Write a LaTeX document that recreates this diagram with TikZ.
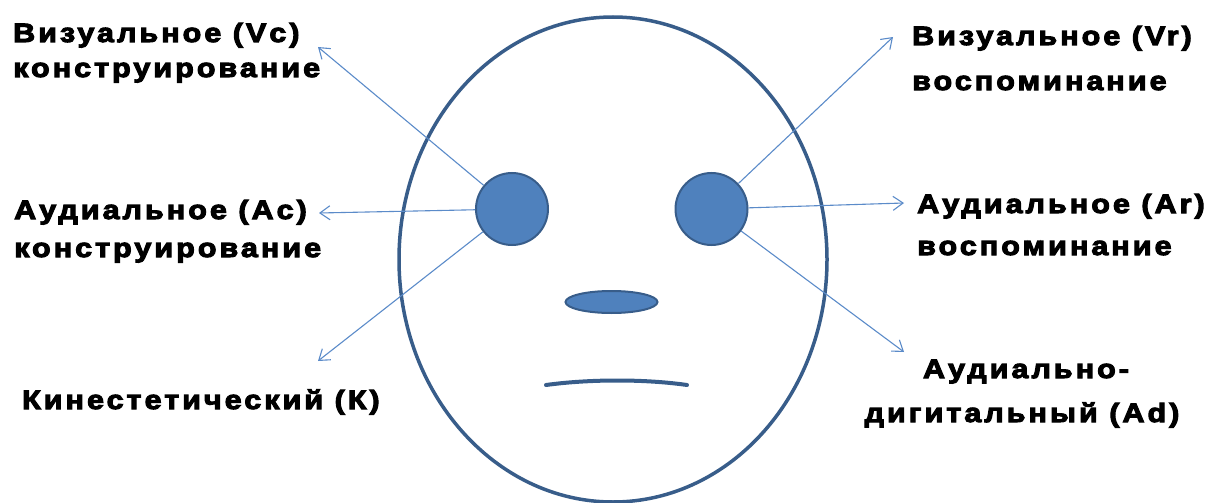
\documentclass[tikz,border=0pt]{standalone}
\usepackage{fontspec}
\newfontfamily\lab[LetterSpace=11.5,FakeBold=4,FakeStretch=1.15]{Liberation Sans}
\usetikzlibrary{arrows.meta,shapes.geometric}
\definecolor{fillblue}{HTML}{4F81BD}
\definecolor{edgeblue}{HTML}{385D8A}
\definecolor{arrowblue}{HTML}{5B8BC9}
\tikzset{
  face/.style={draw=edgeblue, line width=3.5pt},
  eye/.style={circle, fill=fillblue, draw=edgeblue, line width=2pt, minimum size=72pt, inner sep=0pt},
  nosestyle/.style={ellipse, fill=fillblue, draw=edgeblue, line width=2pt, minimum width=92pt, minimum height=22pt, inner sep=0pt},
  arr/.style={draw=arrowblue, line width=1.1pt, -{Straight Barb[length=10pt,width=14pt,line width=1.1pt]}},
  lbl/.style={inner sep=0pt, font=\lab\bfseries\fontsize{26.5}{30}\selectfont, text=black},
}
\begin{document}
\begin{tikzpicture}[x=1pt,y=-1pt]
\useasboundingbox (0,0) rectangle (1208,503);
% face
\draw[face] (613,259.5) ellipse [x radius=214, y radius=242.5];
% eyes
\node[eye] (eyeL) at (512,209) {};
\node[eye] (eyeR) at (711.5,209) {};
% nose
\node[nosestyle] (nose) at (611.5,302) {};
% mouth
\coordinate (mouthA) at (546,385);
\coordinate (mouthB) at (687,385);
\draw[draw=edgeblue, line width=4pt, line cap=round] (mouthA) .. controls (590,379) and (645,379) .. (mouthB);
% arrow ends
\coordinate (tVc) at (318,47);
\coordinate (tAc) at (319,213);
\coordinate (tK) at (318,361);
\coordinate (tVr) at (893,37);
\coordinate (tAr) at (904,203);
\coordinate (tAd) at (904,352);
\draw[arr] (eyeL) -- (tVc);
\draw[arr] (eyeL) -- (tAc);
\draw[arr] (eyeL) -- (tK);
\draw[arr] (eyeR) -- (tVr);
\draw[arr] (eyeR) -- (tAr);
\draw[arr] (eyeR) -- (tAd);
% labels
\node[lbl, anchor=base west] (vc1) at (13,42) {Визуальное (Vc)};
\node[lbl, anchor=base west] (vc2) at (13,77) {конструирование};
\node[lbl, anchor=base west] (ac1) at (14,219) {Аудиальное (Ac)};
\node[lbl, anchor=base west] (ac2) at (14,257) {конструирование};
\node[lbl, anchor=base west] (k1) at (22,409) {Кинестетический (К)};
\node[lbl, anchor=base west] (vr1) at (912,45) {Визуальное (Vr)};
\node[lbl, anchor=base west] (vr2) at (912,90) {воспоминание};
\node[lbl, anchor=base west] (ar1) at (917,213) {Аудиальное (Ar)};
\node[lbl, anchor=base west] (ar2) at (917,255) {воспоминание};
\node[lbl, anchor=base] (ad1) at (1026,378) {Аудиально-};
\node[lbl, anchor=base] (ad2) at (1022,422) {дигитальный (Ad)};
\end{tikzpicture}
\end{document}
